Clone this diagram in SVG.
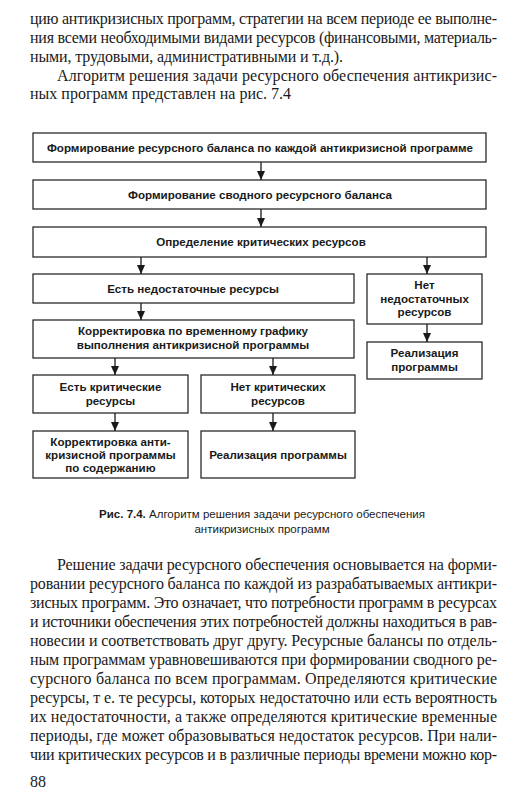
<svg xmlns="http://www.w3.org/2000/svg" width="526" height="796" viewBox="0 0 526 796">
<style>
.body{font-family:"Liberation Serif","DejaVu Serif",serif;font-size:16px;fill:#1a1a1a}
.box{fill:#fff;stroke:#1a1a1a;stroke-width:1.2}
.lbl{font-family:"Liberation Sans",Arial,sans-serif;font-size:11.6px;font-weight:bold;fill:#1a1a1a;text-anchor:middle}
.cap{font-family:"Liberation Sans",Arial,sans-serif;font-size:11.5px;fill:#1a1a1a;text-anchor:middle}
.conn{stroke:#1a1a1a;stroke-width:1.3;fill:none;marker-end:url(#ah)}
</style>
<defs>
<marker id="ah" markerUnits="userSpaceOnUse" markerWidth="9" markerHeight="9" refX="9" refY="4" orient="auto">
<path d="M0,0 L9,4 L0,8 Z" fill="#1a1a1a"/>
</marker>
</defs>
<rect width="526" height="796" fill="#fff"/>

<g id="text-top">
<text class="body" x="30" y="24" textLength="467" lengthAdjust="spacing">цию антикризисных программ, стратегии на всем периоде ее выполне-</text>
<text class="body" x="30" y="43" textLength="467" lengthAdjust="spacing">ния всеми необходимыми видами ресурсов (финансовыми, материаль-</text>
<text class="body" x="30" y="61.5" textLength="313" lengthAdjust="spacing">ными, трудовыми, административными и т.д.).</text>
<text class="body" x="57" y="80.5" textLength="440" lengthAdjust="spacing">Алгоритм решения задачи ресурсного обеспечения антикризис-</text>
<text class="body" x="30" y="99">ных программ представлен на рис. 7.4</text>
</g>

<g id="connectors">
<line class="conn" x1="261" y1="162" x2="261" y2="180"/>
<line class="conn" x1="261" y1="209" x2="261" y2="227"/>
<line class="conn" x1="141" y1="257" x2="141" y2="274"/>
<line class="conn" x1="427" y1="257" x2="427" y2="274"/>
<line class="conn" x1="141" y1="303" x2="141" y2="320"/>
<line class="conn" x1="427" y1="324" x2="427" y2="342"/>
<line class="conn" x1="115" y1="358" x2="115" y2="375"/>
<line class="conn" x1="273" y1="358" x2="273" y2="375"/>
<line class="conn" x1="115" y1="413" x2="115" y2="431"/>
<line class="conn" x1="273" y1="413" x2="273" y2="431"/>
</g>

<g id="n1">
<rect class="box" x="33" y="133" width="453" height="29"/>
<text class="lbl" x="260" y="151.5">Формирование ресурсного баланса по каждой антикризисной программе</text>
</g>
<g id="n2">
<rect class="box" x="33" y="180" width="453" height="29"/>
<text class="lbl" x="260" y="198.5">Формирование сводного ресурсного баланса</text>
</g>
<g id="n3">
<rect class="box" x="33" y="227" width="453" height="30"/>
<text class="lbl" x="261" y="246">Определение критических ресурсов</text>
</g>
<g id="n4">
<rect class="box" x="33" y="274" width="321" height="29"/>
<text class="lbl" x="193" y="292.5">Есть недостаточные ресурсы</text>
</g>
<g id="n5">
<rect class="box" x="367" y="274" width="115" height="50"/>
<text class="lbl" x="424.5" y="289">Нет</text>
<text class="lbl" x="424.5" y="302.5">недостаточных</text>
<text class="lbl" x="424.5" y="316">ресурсов</text>
</g>
<g id="n6">
<rect class="box" x="33" y="320" width="321" height="38"/>
<text class="lbl" x="193" y="335">Корректировка по временному  графику</text>
<text class="lbl" x="193" y="349">выполнения антикризисной программы</text>
</g>
<g id="n7">
<rect class="box" x="367" y="342" width="115" height="37"/>
<text class="lbl" x="424.5" y="357">Реализация</text>
<text class="lbl" x="424.5" y="371">программы</text>
</g>
<g id="n8">
<rect class="box" x="33" y="375" width="155" height="38"/>
<text class="lbl" x="110.5" y="391">Есть критические</text>
<text class="lbl" x="110.5" y="405">ресурсы</text>
</g>
<g id="n9">
<rect class="box" x="201" y="375" width="154" height="38"/>
<text class="lbl" x="278" y="391">Нет критических</text>
<text class="lbl" x="278" y="405">ресурсов</text>
</g>
<g id="n10">
<rect class="box" x="33" y="431" width="155" height="47"/>
<text class="lbl" x="110.5" y="446">Корректировка анти-</text>
<text class="lbl" x="110.5" y="459">кризисной программы</text>
<text class="lbl" x="110.5" y="472">по содержанию</text>
</g>
<g id="n11">
<rect class="box" x="201" y="431" width="154" height="47"/>
<text class="lbl" x="278" y="459">Реализация программы</text>
</g>

<g id="caption">
<text class="cap" x="262" y="518"><tspan font-weight="bold">Рис. 7.4.</tspan> Алгоритм решения задачи ресурсного обеспечения</text>
<text class="cap" x="262" y="533">антикризисных программ</text>
</g>

<g id="text-bottom">
<text class="body" x="57" y="570" textLength="440" lengthAdjust="spacing">Решение задачи ресурсного обеспечения основывается на форми-</text>
<text class="body" x="30" y="589" textLength="467" lengthAdjust="spacing">ровании ресурсного баланса по каждой из разрабатываемых антикри-</text>
<text class="body" x="30" y="608" textLength="467" lengthAdjust="spacing">зисных программ. Это означает, что потребности программ в ресурсах</text>
<text class="body" x="30" y="627" textLength="467" lengthAdjust="spacing">и источники обеспечения этих потребностей должны находиться в рав-</text>
<text class="body" x="30" y="646" textLength="467" lengthAdjust="spacing">новесии и соответствовать друг другу. Ресурсные балансы по отдель-</text>
<text class="body" x="30" y="665" textLength="467" lengthAdjust="spacing">ным программам уравновешиваются при формировании сводного ре-</text>
<text class="body" x="30" y="684" textLength="467" lengthAdjust="spacing">сурсного баланса по всем программам. Определяются критические</text>
<text class="body" x="30" y="703" textLength="467" lengthAdjust="spacing">ресурсы, т е. те ресурсы, которых недостаточно или есть вероятность</text>
<text class="body" x="30" y="722" textLength="467" lengthAdjust="spacing">их недостаточности, а также определяются критические временные</text>
<text class="body" x="30" y="741" textLength="467" lengthAdjust="spacing">периоды, где может образовываться недостаток ресурсов. При нали-</text>
<text class="body" x="30" y="760" textLength="467" lengthAdjust="spacing">чии критических ресурсов и в различные периоды времени можно кор-</text>
<text class="body" x="30" y="787">88</text>
</g>
</svg>
